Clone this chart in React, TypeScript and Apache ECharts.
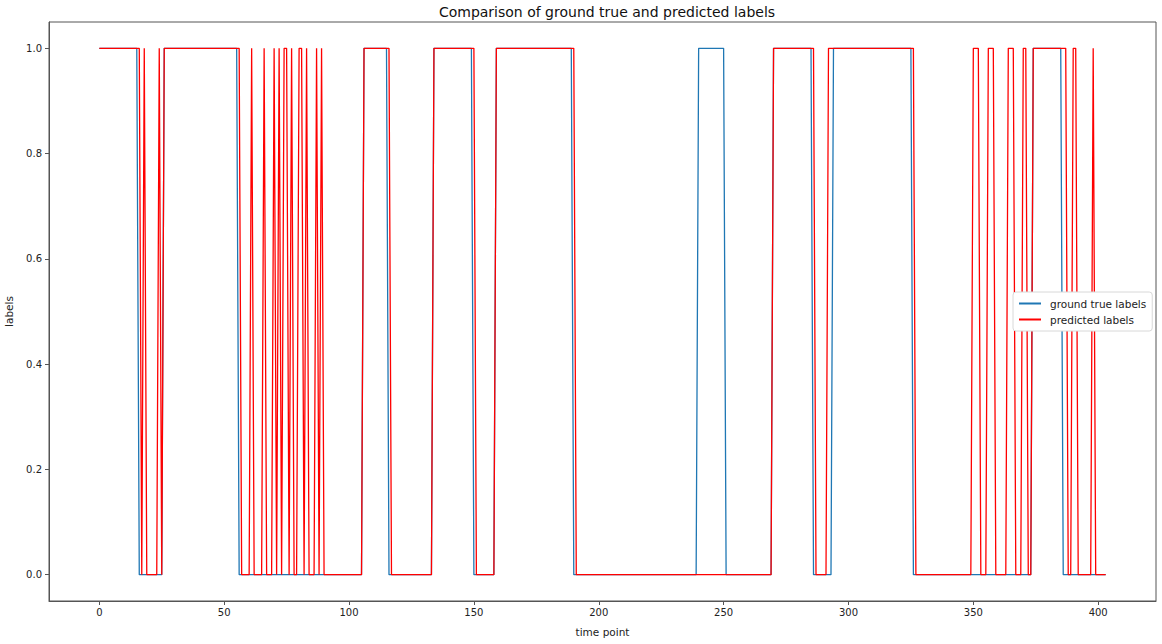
import React, { useEffect, useRef } from "react";
import * as echarts from "echarts";

// number of time points (0 .. 403)
const timePointCount = 404;

// ranges [start, end] (inclusive) of time points where the label is 1
const groundTrueOnes: [number, number][] = [
  [0, 15], [26, 55], [106, 115], [134, 149], [159, 189], [240, 250],
  [270, 285], [294, 325], [374, 385],
];

const predictedOnes: [number, number][] = [
  [0, 16], [18, 18], [24, 24], [26, 56], [61, 61], [66, 66], [70, 70],
  [72, 72], [74, 75], [77, 77], [80, 81], [83, 83], [87, 87], [89, 89],
  [106, 116], [134, 150], [159, 190], [270, 286], [292, 326], [350, 352],
  [356, 358], [364, 366], [370, 371], [374, 387], [390, 391], [398, 398],
];

const xTicks = [0, 50, 100, 150, 200, 250, 300, 350, 400];
const yTicks = [0, 0.2, 0.4, 0.6, 0.8, 1.0];

const seriesNames = ["ground true labels", "predicted labels"];
const seriesColors = ["#1f77b4", "#ff0000"];

function expand(ranges: [number, number][]): [number, number][] {
  const pts: [number, number][] = [];
  for (let t = 0; t < timePointCount; t++) {
    const on = ranges.some(([a, b]) => t >= a && t <= b);
    pts.push([t, on ? 1 : 0]);
  }
  return pts;
}

const FONT = "DejaVu Sans";

export default function App() {
  const ref = useRef<HTMLDivElement>(null);
  useEffect(() => {
    document.body.style.margin = "0";
    const chart = echarts.init(ref.current!, undefined, { renderer: "svg" });
    chart.setOption({
      animation: false,
      backgroundColor: "#ffffff",
      textStyle: { fontFamily: FONT },
      title: {
        text: "Comparison of ground true and predicted labels",
        left: 602,
        textAlign: "center",
        top: 0,
        textStyle: { fontFamily: FONT, fontSize: 14, fontWeight: "normal", color: "#111" },
      },
      grid: {
        left: 49,
        right: 6,
        top: 22,
        bottom: 43,
        outerBoundsMode: "none",
        containLabel: false,
        show: true,
        borderColor: "#555",
        borderWidth: 1,
        backgroundColor: "transparent",
      },
      legend: {
        data: seriesNames,
        orient: "vertical",
        left: 1013,
        top: 292,
        icon: "rect",
        itemWidth: 22,
        itemHeight: 2,
        itemGap: 5,
        padding: [6, 6, 6, 6],
        backgroundColor: "#ffffff",
        borderColor: "#d8d8d8",
        borderWidth: 1,
        borderRadius: 3,
        textStyle: { fontFamily: FONT, fontSize: 10.5, color: "#222", padding: [0, 0, 0, 4] },
      },
      xAxis: {
        type: "value",
        min: -20.15,
        max: 423.15,
        name: "time point",
        nameLocation: "middle",
        nameGap: 25,
        nameTextStyle: { fontFamily: FONT, fontSize: 10.5, color: "#222" },
        splitLine: { show: false },
        axisLine: { show: true, onZero: false, lineStyle: { color: "#555", width: 1 } },
        axisTick: { show: true, length: 4, customValues: xTicks, lineStyle: { color: "#555" } },
        axisLabel: {
          customValues: xTicks,
          fontFamily: FONT,
          fontSize: 10,
          color: "#222",
          margin: 6,
          formatter: (v: number) => String(Math.round(v)),
        },
      },
      yAxis: {
        type: "value",
        min: -0.05,
        max: 1.05,
        name: "labels",
        nameLocation: "middle",
        nameGap: 35,
        nameTextStyle: { fontFamily: FONT, fontSize: 10.5, color: "#222" },
        splitLine: { show: false },
        axisLine: { show: true, onZero: false, lineStyle: { color: "#555", width: 1 } },
        axisTick: { show: true, length: 4, customValues: yTicks, lineStyle: { color: "#555" } },
        axisLabel: {
          customValues: yTicks,
          fontFamily: FONT,
          fontSize: 10,
          color: "#222",
          margin: 7,
          formatter: (v: number) => v.toFixed(1),
        },
      },
      series: [
        {
          name: seriesNames[0],
          type: "line",
          data: expand(groundTrueOnes),
          symbol: "none",
          showSymbol: false,
          lineStyle: { color: seriesColors[0], width: 1.3 },
          itemStyle: { color: seriesColors[0] },
          z: 2,
        },
        {
          name: seriesNames[1],
          type: "line",
          data: expand(predictedOnes),
          symbol: "none",
          showSymbol: false,
          lineStyle: { color: seriesColors[1], width: 1.3 },
          itemStyle: { color: seriesColors[1] },
          z: 3,
        },
      ],
    });
    return () => chart.dispose();
  }, []);
  return <div ref={ref} style={{ width: 1162, height: 644 }} />;
}
